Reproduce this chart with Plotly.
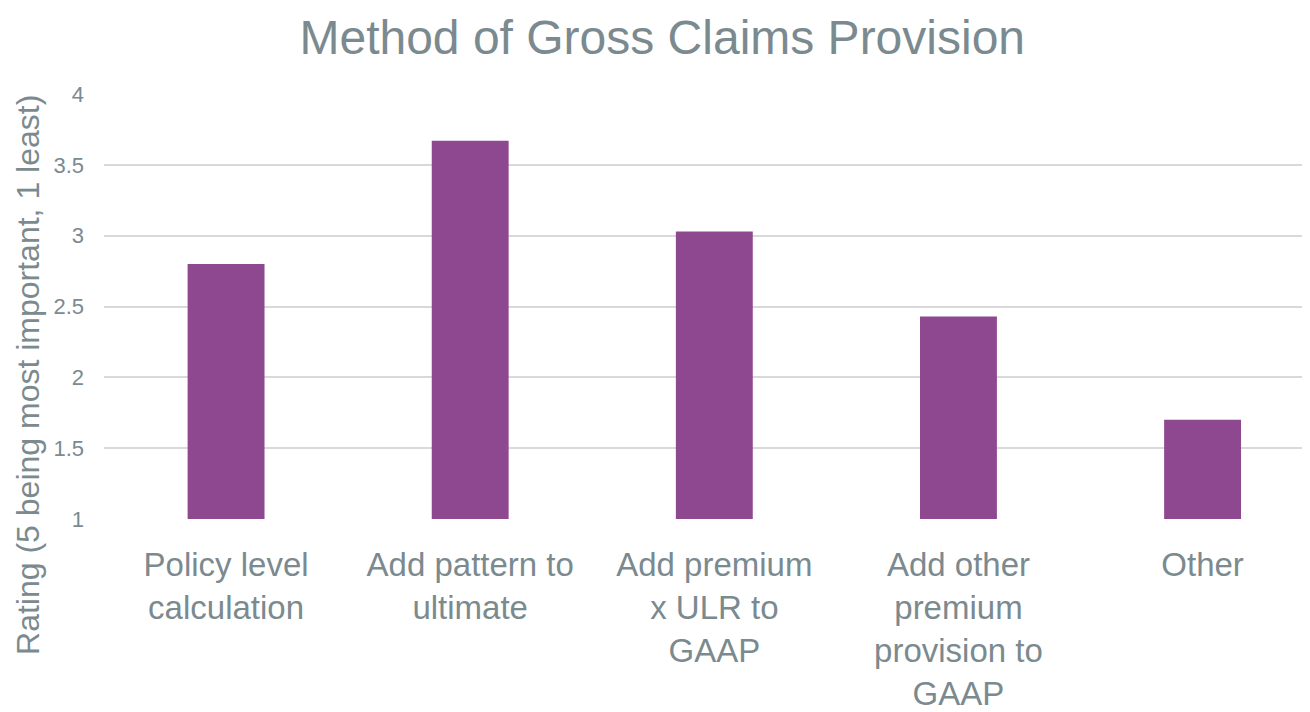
import plotly.graph_objects as go

categories = ["Policy level<br>calculation", "Add pattern to<br>ultimate", "Add premium<br>x ULR to<br>GAAP",
              "Add other<br>premium<br>provision to<br>GAAP", "Other"]
ratings = [2.8, 3.67, 3.03, 2.43, 1.7]
y_ticks = [1, 1.5, 2, 2.5, 3, 3.5, 4]
y_tick_labels = ["1", "1.5", "2", "2.5", "3", "3.5", "4"]

TXT = "#7b8a8f"
FONT = "Liberation Sans"

fig = go.Figure(go.Bar(x=list(range(len(categories))), y=ratings, marker_color="#8e4890",
                       marker_line_width=0, width=0.315))

fig.update_layout(
    width=1302, height=704,
    paper_bgcolor="white", plot_bgcolor="white",
    margin=dict(l=96, r=0, t=86, b=189),
    font=dict(family=FONT, color=TXT),
    title=dict(text="Method of Gross Claims Provision", x=0.5025, xanchor="center",
               y=0.959, yanchor="middle", font=dict(size=48, color=TXT, family=FONT)),
    showlegend=False,
    xaxis=dict(tickmode="array", tickvals=list(range(len(categories))), ticktext=categories,
               range=[-0.5, 4.44], showgrid=False, zeroline=False, showline=False,
               tickfont=dict(size=33, color=TXT), ticks="", ticklabelstandoff=23, tickangle=0),
    yaxis=dict(range=[1, 4], tickvals=y_ticks, ticktext=y_tick_labels, showgrid=True,
               gridcolor="#d9d9d9", gridwidth=1.5, zeroline=False, showline=False,
               tickfont=dict(size=22, color=TXT), ticks="", ticklabelstandoff=19),
    annotations=[dict(text="Rating (5 being most important, 1 least)", textangle=-90,
                      xref="paper", yref="paper", x=-0.063, y=0.339, xanchor="center",
                      yanchor="middle", showarrow=False, font=dict(size=32, color=TXT, family=FONT))],
)

fig.write_html("out.html")
